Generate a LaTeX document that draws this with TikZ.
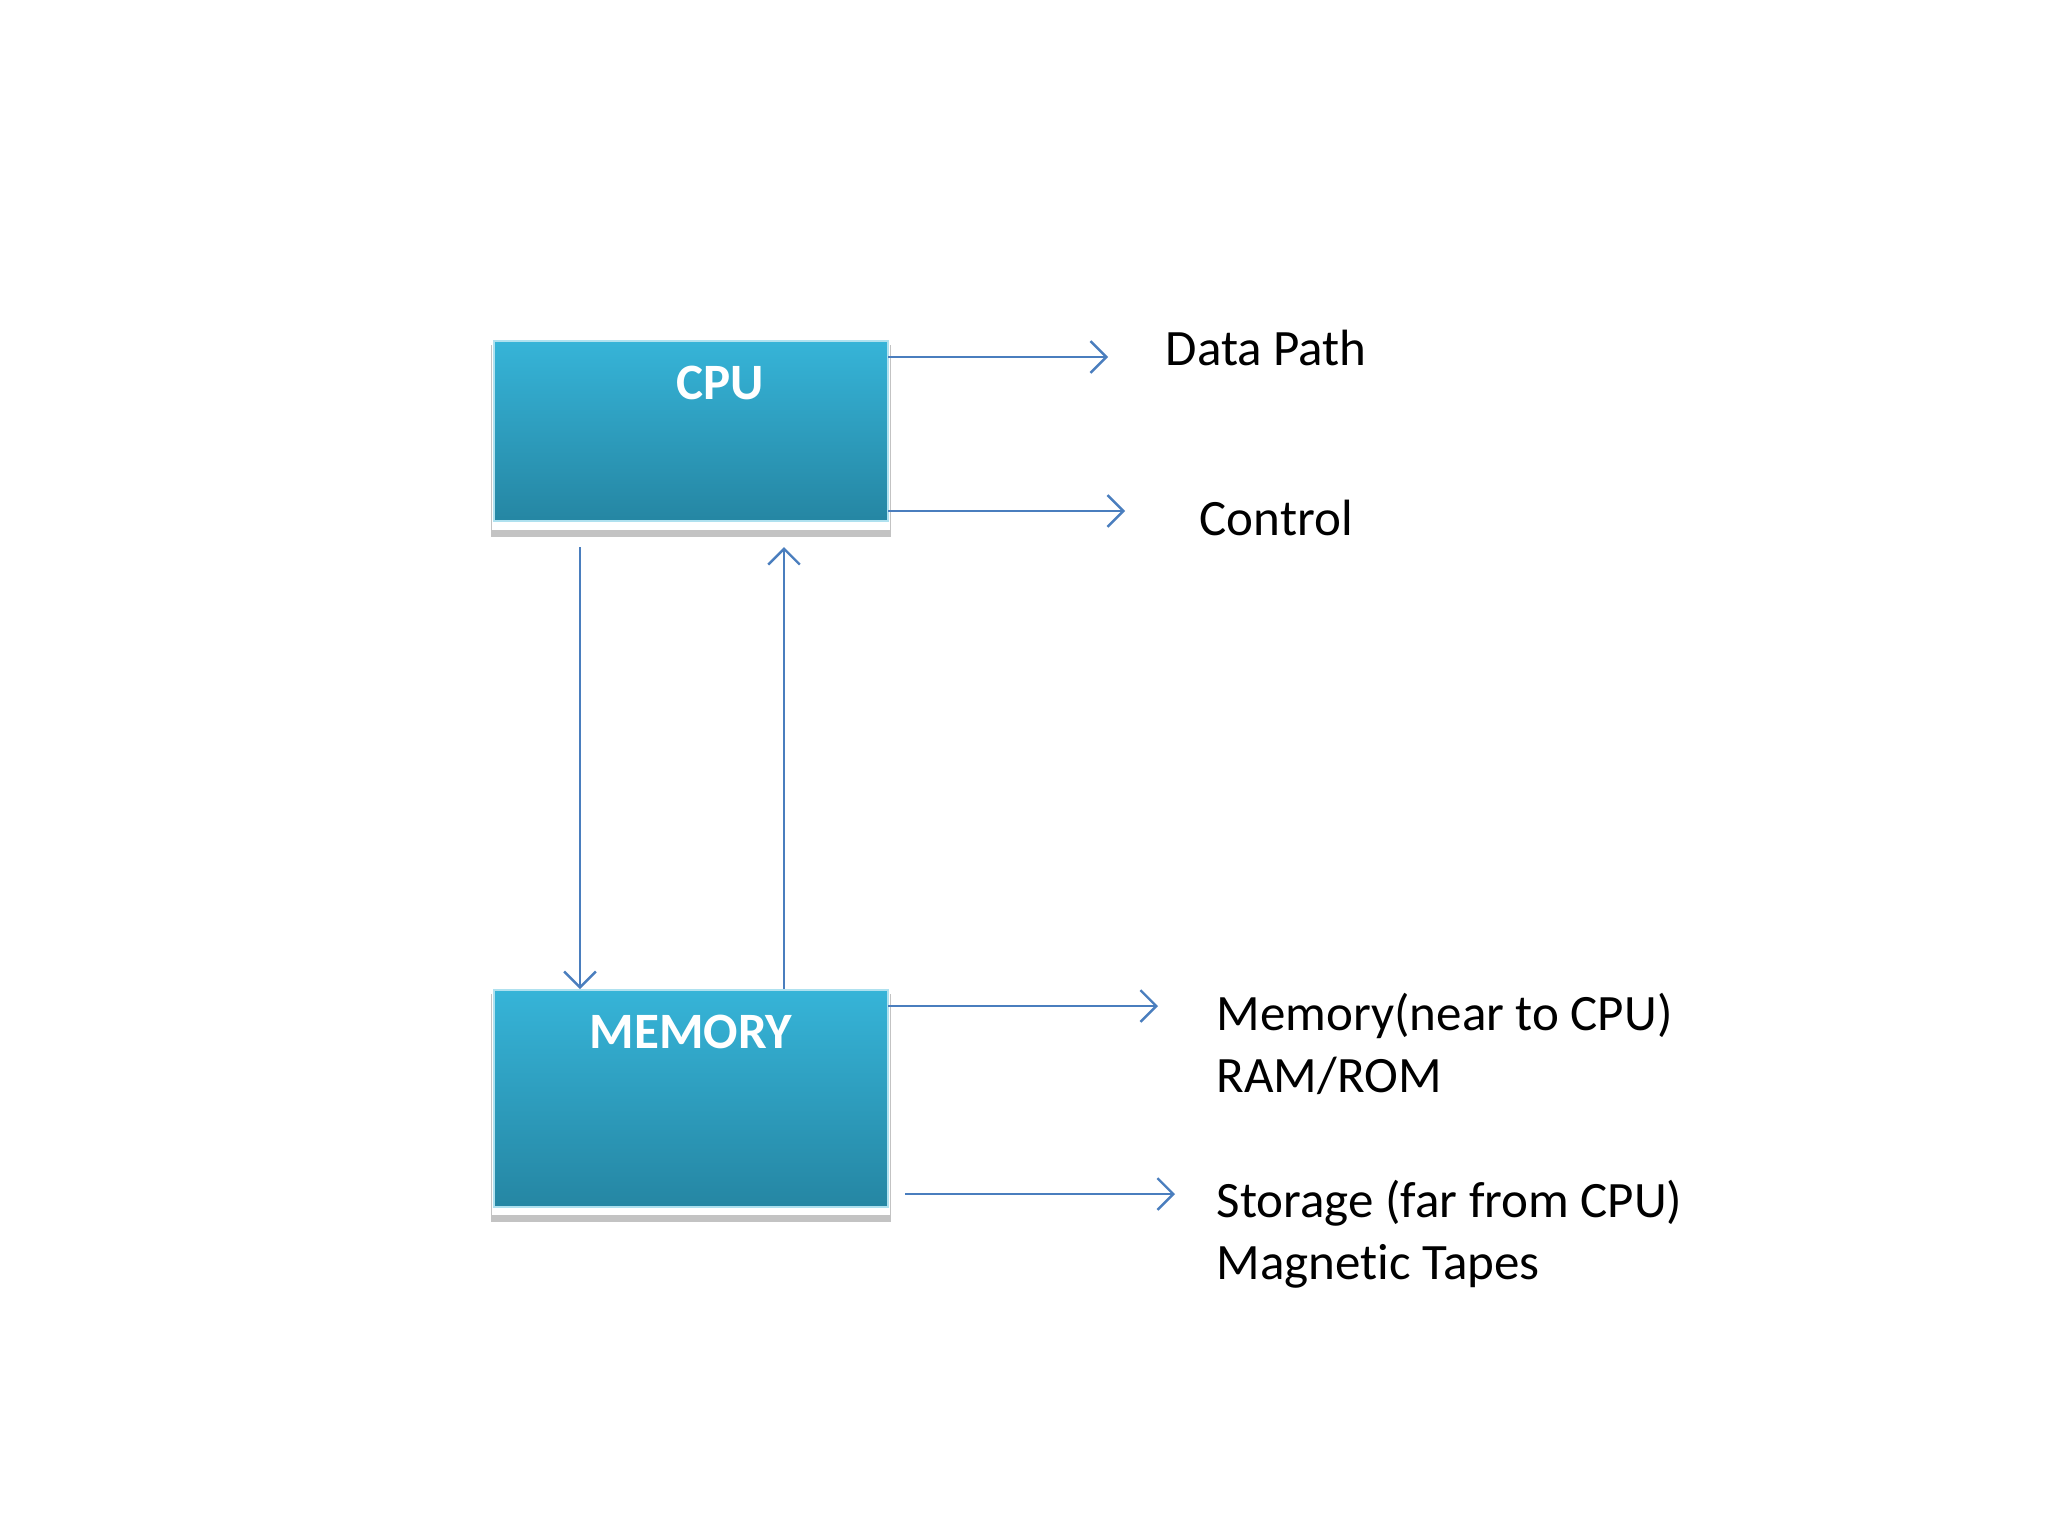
\documentclass[tikz,border=0pt]{standalone}
\usepackage{fontspec}
\setmainfont{Carlito}[Ligatures=NoCommon]
\usetikzlibrary{arrows.meta}
\definecolor{boxtop}{RGB}{54,180,216}
\definecolor{boxbot}{RGB}{37,134,163}
\definecolor{arrowc}{RGB}{74,126,190}
\definecolor{shadowc}{RGB}{195,195,195}
\begin{document}
\begin{tikzpicture}[x=0.01cm,y=-0.01cm,
  box/.style={rectangle, inner sep=0pt, top color=boxtop, bottom color=boxbot, draw=boxtop!40!white, line width=0.4pt},
  boxtext/.style={text=white, font=\fontsize{14.5pt}{17.4pt}\selectfont\bfseries, anchor=base, inner sep=0pt},
  lbl/.style={font=\fontsize{14.5pt}{17.4pt}\selectfont, anchor=base west, inner sep=0pt, align=left},
  arr/.style={draw=arrowc, line width=0.7pt, -{Straight Barb[length=4.5pt,width=9pt,line width=0.7pt]}}
]
\useasboundingbox (0,0) rectangle (2048,1536);
\fill[white] (0,0) rectangle (2048,1536);

% CPU box with shadow
\fill[shadowc] (491,345) rectangle (891,537);
\fill[white] (492,339) rectangle (890,530);
\node[box, minimum width=3.94cm, minimum height=1.80cm] (cpu) at (691,431) {};
\node[boxtext] (cputxt) at (720,399) {CPU};

% MEMORY box with shadow
\fill[shadowc] (491,994) rectangle (891,1222);
\fill[white] (492,988) rectangle (890,1215);
\node[box, minimum width=3.94cm, minimum height=2.17cm] (mem) at (691,1098.5) {};
\node[boxtext] (memtxt) at (691,1048) {MEMORY};

% labels (base anchor of multi-line nodes is the last line's baseline)
\node[lbl] (dp) at (1165,365) {Data Path};
\node[lbl] (ctl) at (1199,535) {Control};
\node[lbl] (near) at (1216,1092) {Memory(near to CPU)\\RAM/ROM};
\node[lbl] (far) at (1216,1279) {Storage (far from CPU)\\Magnet\kern0pt ic Tapes};

% connector end points
\coordinate (dpA) at (888,357);  \coordinate (dpB) at (1108,357);
\coordinate (ctA) at (888,511);  \coordinate (ctB) at (1125,511);
\coordinate (dnA) at (580,547);  \coordinate (dnB) at (580,989);
\coordinate (upA) at (784,989);  \coordinate (upB) at (784,547);
\coordinate (nrA) at (888,1006); \coordinate (nrB) at (1158,1006);
\coordinate (frA) at (905,1194); \coordinate (frB) at (1175,1194);

\draw[arr] (dpA) -- (dpB);
\draw[arr] (ctA) -- (ctB);
\draw[arr] (dnA) -- (dnB);
\draw[arr] (upA) -- (upB);
\draw[arr] (nrA) -- (nrB);
\draw[arr] (frA) -- (frB);
\end{tikzpicture}
\end{document}
